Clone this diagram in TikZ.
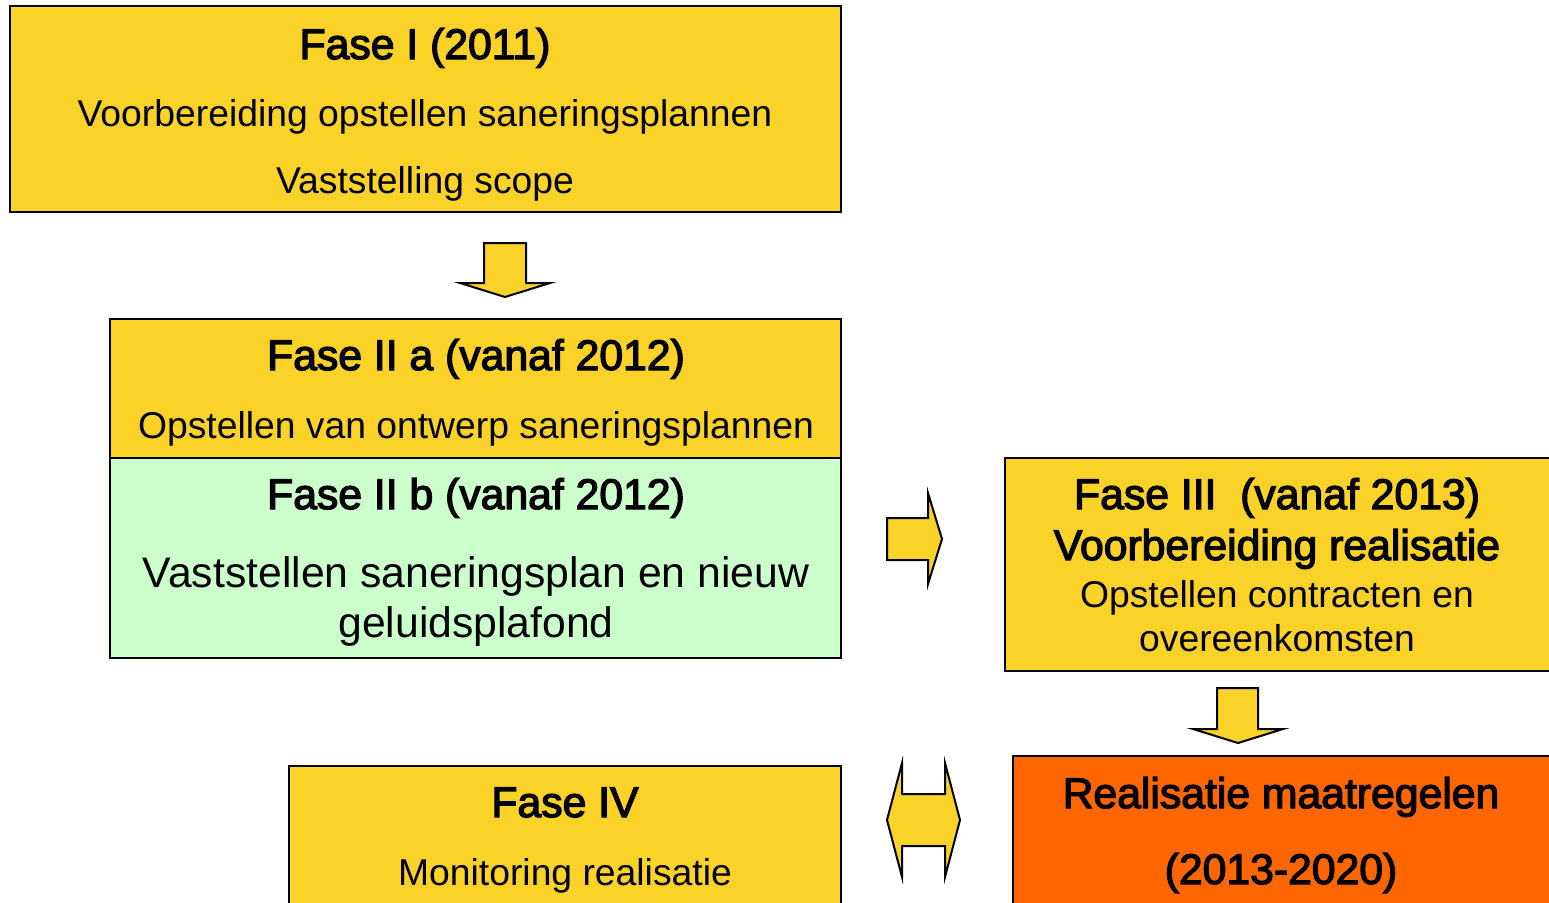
\documentclass[tikz,border=0pt]{standalone}
\usepackage{fontspec}
\setmainfont{Liberation Sans}
\newfontfamily\titlefont{Liberation Sans}[FakeBold=3]
\definecolor{gold}{RGB}{250,210,40}
\definecolor{mint}{RGB}{204,255,204}
\definecolor{orangebox}{RGB}{255,102,0}
\tikzset{
  phase/.style={draw=black, line width=1.6pt},
  blockarrow/.style={draw=black, fill=gold, line width=2pt, line join=miter},
  ttl/.style={font=\titlefont\fontsize{42.7}{48}\selectfont, inner sep=0pt, anchor=base},
  txt/.style={font=\fontsize{37.3}{42}\selectfont, inner sep=0pt, anchor=base},
  bigtxt/.style={font=\fontsize{42.7}{48}\selectfont, inner sep=0pt, anchor=base},
}
\begin{document}
\begin{tikzpicture}[x=1pt,y=-1pt]
\useasboundingbox (0,0) rectangle (1549,902);
\clip (0,0) rectangle (1549,902);
% boxes
\filldraw[phase, fill=gold] (10,6) rectangle (841,212);
\filldraw[phase, fill=gold] (110,319) rectangle (841,458);
\filldraw[phase, fill=mint] (110,458) rectangle (841,658);
\filldraw[phase, fill=gold] (1005,458) rectangle (1560,671);
\filldraw[phase, fill=orangebox] (1013,756) rectangle (1560,910);
\filldraw[phase, fill=gold] (289,766) rectangle (841,910);
% texts
\node[ttl] (t1) at (425,59) {Fase I (2011)};
\node[txt] (t1a) at (425,126) {Voorbereiding opstellen saneringsplannen};
\node[txt] (t1b) at (425,193) {Vaststelling scope};
\node[ttl] (t2) at (476,370) {Fase II a (vanaf 2012)};
\node[txt] (t2a) at (476,438) {Opstellen van ontwerp saneringsplannen};
\node[ttl] (t3) at (476,509) {Fase II b (vanaf 2012)};
\node[bigtxt] (t3a) at (476,587) {Vaststellen saneringsplan en nieuw};
\node[bigtxt] (t3b) at (476,637) {geluidsplafond};
\node[ttl] (t4) at (1277,509) {Fase III\ \ (vanaf 2013)};
\node[ttl] (t4a) at (1277,560) {Voorbereiding realisatie};
\node[txt] (t4b) at (1277,607) {Opstellen contracten en};
\node[txt] (t4c) at (1277,651) {overeenkomsten};
\node[ttl] (t5) at (1281,808) {Realisatie maatregelen};
\node[ttl] (t5a) at (1281,884) {(2013-2020)};
\node[ttl] (t6) at (565,817) {Fase IV};
\node[txt] (t6a) at (565,885) {Monitoring realisatie};
% block arrows
\draw[blockarrow] (484,243) -- (526,243) -- (526,283) -- (550,283) -- (505,297) -- (460,283) -- (484,283) -- cycle;
\draw[blockarrow] (1217,688) -- (1258,688) -- (1258,729) -- (1283,729) -- (1238,743) -- (1193,729) -- (1217,729) -- cycle;
\draw[blockarrow] (887,518) -- (928,518) -- (928,493) -- (942,539) -- (928,584) -- (928,560) -- (887,560) -- cycle;
\draw[blockarrow] (887,820) -- (902,763) -- (902,794) -- (945,794) -- (945,763) -- (960,820) -- (945,877) -- (945,846) -- (902,846) -- (902,877) -- cycle;
\end{tikzpicture}
\end{document}
